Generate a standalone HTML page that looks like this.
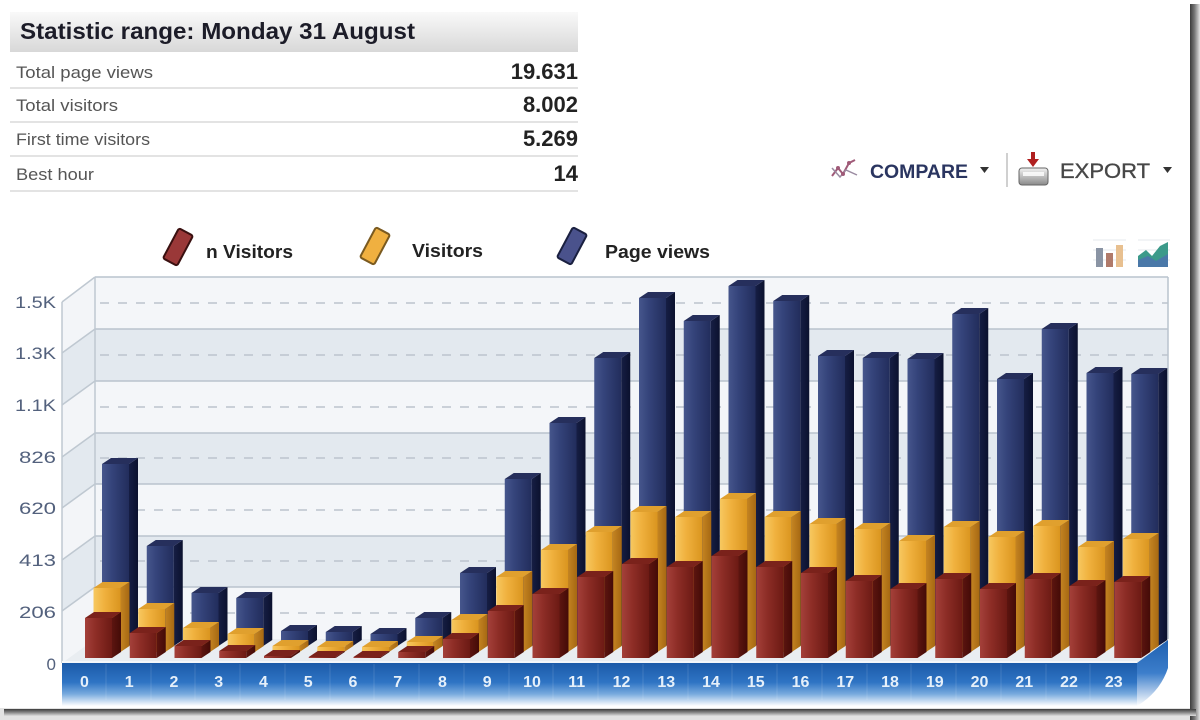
<!DOCTYPE html>
<html><head><meta charset="utf-8">
<style>
html,body{margin:0;padding:0;background:#fff;}
svg{display:block;font-family:"Liberation Sans",Arial,sans-serif;}
.B rect{fill:url(#bf)} .B .s{fill:url(#bs)} .B .t{fill:#262f5c}
.Y rect{fill:url(#yf)} .Y .s{fill:url(#ys)} .Y .t{fill:#e0a02e}
.R rect{fill:url(#rf)} .R .s{fill:url(#rs)} .R .t{fill:#7a221b}
.yl{font-size:17px;fill:#53617d;text-anchor:end}
.xl{font-size:16px;font-weight:bold;fill:#e6f0fa;text-anchor:middle}
</style></head>
<body>
<svg width="1200" height="720" viewBox="0 0 1200 720" xmlns="http://www.w3.org/2000/svg">
<defs>
<linearGradient id="hdr" x1="0" y1="0" x2="0" y2="1"><stop offset="0" stop-color="#f9f9f9"/><stop offset="1" stop-color="#d8d8d8"/></linearGradient>
<linearGradient id="bf" x1="0" x2="1"><stop offset="0" stop-color="#46568c"/><stop offset=".35" stop-color="#35447b"/><stop offset="1" stop-color="#222d5c"/></linearGradient>
<linearGradient id="bs" x1="0" x2="1"><stop offset="0" stop-color="#161e44"/><stop offset="1" stop-color="#0b112e"/></linearGradient>
<linearGradient id="yf" x1="0" x2="1"><stop offset="0" stop-color="#f7c860"/><stop offset=".4" stop-color="#f0b13e"/><stop offset="1" stop-color="#da951f"/></linearGradient>
<linearGradient id="ys" x1="0" x2="1"><stop offset="0" stop-color="#c48422"/><stop offset="1" stop-color="#a66812"/></linearGradient>
<linearGradient id="rf" x1="0" x2="1"><stop offset="0" stop-color="#a4403a"/><stop offset=".4" stop-color="#8d2d26"/><stop offset="1" stop-color="#6c1a14"/></linearGradient>
<linearGradient id="rs" x1="0" x2="1"><stop offset="0" stop-color="#5c1510"/><stop offset="1" stop-color="#440b07"/></linearGradient>
<linearGradient id="band" x1="0" y1="0" x2="0" y2="1"><stop offset="0" stop-color="#1b5aa8"/><stop offset=".45" stop-color="#2f74c4"/><stop offset=".72" stop-color="#78aade"/><stop offset="1" stop-color="#ffffff"/></linearGradient>
<linearGradient id="bandR" x1="0" y1="0" x2="0" y2="1"><stop offset="0" stop-color="#1f60b0"/><stop offset=".5" stop-color="#3c7ecb"/><stop offset="1" stop-color="#ffffff"/></linearGradient>
<linearGradient id="shR" x1="0" x2="1"><stop offset="0" stop-color="#3c3c3c"/><stop offset=".45" stop-color="#777"/><stop offset="1" stop-color="#e4e4e4"/></linearGradient>
<linearGradient id="shB" x1="0" y1="0" x2="0" y2="1"><stop offset="0" stop-color="#3c3c3c"/><stop offset=".5" stop-color="#888"/><stop offset="1" stop-color="#dedede"/></linearGradient>
<linearGradient id="dev" x1="0" y1="0" x2="0" y2="1"><stop offset="0" stop-color="#f2f2f2"/><stop offset="1" stop-color="#8a8a8a"/></linearGradient>
</defs>

<!-- frame shadow -->
<rect x="0" y="708" width="1200" height="12" fill="#e2e2e2"/>
<rect x="1190" y="4" width="10" height="716" fill="url(#shR)"/>
<rect x="4" y="709" width="1192" height="7" fill="url(#shB)"/>

<!-- header table -->
<rect x="10" y="12" width="568" height="40" fill="url(#hdr)"/>
<text x="20" y="39" font-size="23" font-weight="bold" fill="#1c1c28" textLength="395" lengthAdjust="spacingAndGlyphs">Statistic range: Monday 31 August</text>
<g font-size="17" fill="#555">
<text x="16" y="78" textLength="137" lengthAdjust="spacingAndGlyphs">Total page views</text>
<text x="16" y="111" textLength="102" lengthAdjust="spacingAndGlyphs">Total visitors</text>
<text x="16" y="145" textLength="134" lengthAdjust="spacingAndGlyphs">First time visitors</text>
<text x="16" y="180" textLength="78" lengthAdjust="spacingAndGlyphs">Best hour</text>
</g>
<g font-size="22" font-weight="bold" fill="#222" text-anchor="end">
<text x="578" y="79">19.631</text>
<text x="578" y="112">8.002</text>
<text x="578" y="146">5.269</text>
<text x="578" y="181">14</text>
</g>
<g stroke="#e3e3e3" stroke-width="2">
<line x1="10" y1="88" x2="578" y2="88"/>
<line x1="10" y1="122" x2="578" y2="122"/>
<line x1="10" y1="156" x2="578" y2="156"/>
<line x1="10" y1="191" x2="578" y2="191"/>
</g>

<!-- compare / export -->
<g>
<polyline points="832,176 838,168 843,174 849,163 855,160" fill="none" stroke="#a05a78" stroke-width="2"/>
<polyline points="832,168 840,177 846,170 857,175" fill="none" stroke="#9a8aa0" stroke-width="1.5"/>
<circle cx="838" cy="168" r="2" fill="#a05a78"/><circle cx="849" cy="163" r="2" fill="#a05a78"/><circle cx="843" cy="174" r="2" fill="#a05a78"/>
<text x="870" y="178" font-size="19.5" font-weight="bold" fill="#2a3560" textLength="98" lengthAdjust="spacingAndGlyphs">COMPARE</text>
<polygon points="980,167 989,167 984.5,173" fill="#333"/>
<line x1="1007" y1="153" x2="1007" y2="187" stroke="#d0d0d0" stroke-width="2"/>
<rect x="1031" y="152" width="4" height="8" fill="#b02020"/>
<polygon points="1027,159 1039,159 1033,167" fill="#b02020"/>
<rect x="1019" y="168" width="29" height="17" rx="3" fill="url(#dev)" stroke="#666" stroke-width="1"/>
<rect x="1023" y="172" width="21" height="4" fill="#fff" opacity=".8"/>
<text x="1060" y="178" font-size="21" fill="#474747" stroke="#474747" stroke-width=".35" textLength="90" lengthAdjust="spacingAndGlyphs">EXPORT</text>
<polygon points="1163,167 1172,167 1167.5,173" fill="#333"/>
</g>

<!-- legend -->
<g>
<rect x="-8" y="-17" width="16" height="34" rx="2" transform="translate(178,247) rotate(28)" fill="#9a3838" stroke="#3a1010" stroke-width="2"/>
<text x="206" y="258" font-size="18" font-weight="bold" fill="#222" textLength="87" lengthAdjust="spacingAndGlyphs">n Visitors</text>
<rect x="-8" y="-17" width="16" height="34" rx="2" transform="translate(375,246) rotate(28)" fill="#f0b040" stroke="#7a5a20" stroke-width="2"/>
<text x="412" y="257" font-size="18" font-weight="bold" fill="#222" textLength="71" lengthAdjust="spacingAndGlyphs">Visitors</text>
<rect x="-8" y="-17" width="16" height="34" rx="2" transform="translate(572,246) rotate(28)" fill="#4a528c" stroke="#1a2040" stroke-width="2"/>
<text x="605" y="258" font-size="18" font-weight="bold" fill="#222" textLength="105" lengthAdjust="spacingAndGlyphs">Page views</text>
</g>

<!-- chart type icons -->
<g>
<g stroke="#e4e8ec" stroke-width="1"><line x1="1093" y1="240" x2="1126" y2="240"/><line x1="1093" y1="250" x2="1126" y2="250"/><line x1="1093" y1="260" x2="1126" y2="260"/></g>
<rect x="1096" y="248" width="7" height="19" fill="#8a94a4"/>
<rect x="1106" y="253" width="7" height="14" fill="#b07a6a"/>
<rect x="1116" y="245" width="7" height="22" fill="#e8c090"/>
<g stroke="#e4e8ec" stroke-width="1"><line x1="1138" y1="240" x2="1170" y2="240"/><line x1="1138" y1="250" x2="1170" y2="250"/><line x1="1138" y1="260" x2="1170" y2="260"/></g>
<polygon points="1138,267 1138,256 1146,250 1152,256 1160,246 1168,242 1168,267" fill="#3c9a8a"/>
<polygon points="1138,267 1138,260 1148,256 1156,261 1168,254 1168,267" fill="#4a78a8"/>
</g>

<!-- back wall -->
<rect x="95" y="277" width="1073" height="362" fill="#f4f6f9"/>
<g fill="#e3e9ef">
<rect x="95" y="329" width="1073" height="52"/>
<rect x="95" y="433" width="1073" height="51"/>
<rect x="95" y="536" width="1073" height="51"/>
</g>
<g stroke="#b9c3cd" stroke-width="1.5">
<line x1="95" y1="277" x2="1168" y2="277"/>
<line x1="95" y1="329" x2="1168" y2="329"/>
<line x1="95" y1="381" x2="1168" y2="381"/>
<line x1="95" y1="433" x2="1168" y2="433"/>
<line x1="95" y1="484" x2="1168" y2="484"/>
<line x1="95" y1="536" x2="1168" y2="536"/>
<line x1="95" y1="587" x2="1168" y2="587"/>
<line x1="1168" y1="277" x2="1168" y2="639"/>
</g>
<g stroke="#bcc4cd" stroke-width="1.5" stroke-dasharray="9 9">
<line x1="100" y1="303" x2="1168" y2="303"/>
<line x1="100" y1="355" x2="1168" y2="355"/>
<line x1="100" y1="407" x2="1168" y2="407"/>
<line x1="100" y1="458" x2="1168" y2="458"/>
<line x1="100" y1="510" x2="1168" y2="510"/>
<line x1="100" y1="561" x2="1168" y2="561"/>
<line x1="100" y1="613" x2="1168" y2="613"/>
</g>

<!-- left wall -->
<polygon points="62,302 95,277 95,639 62,663" fill="#f3f5f8"/>
<g fill="#e3e9ef">
<polygon points="62,353 95,329 95,381 62,405"/>
<polygon points="62,457 95,433 95,484 62,508"/>
<polygon points="62,560 95,536 95,587 62,611"/>
</g>
<g stroke="#bfc8d1" stroke-width="1.5">
<line x1="62" y1="302" x2="95" y2="277"/>
<line x1="62" y1="353" x2="95" y2="329"/>
<line x1="62" y1="405" x2="95" y2="381"/>
<line x1="62" y1="457" x2="95" y2="433"/>
<line x1="62" y1="508" x2="95" y2="484"/>
<line x1="62" y1="560" x2="95" y2="536"/>
<line x1="62" y1="611" x2="95" y2="587"/>
<line x1="62" y1="302" x2="62" y2="663"/>
<line x1="95" y1="277" x2="95" y2="639"/>
</g>

<!-- floor -->
<polygon points="62,663 95,639 1168,639 1137,663" fill="#e9edf1"/>

<!-- y labels -->
<text class="yl" x="56" y="308" textLength="41" lengthAdjust="spacingAndGlyphs">1.5K</text>
<text class="yl" x="56" y="359" textLength="41" lengthAdjust="spacingAndGlyphs">1.3K</text>
<text class="yl" x="56" y="411" textLength="41" lengthAdjust="spacingAndGlyphs">1.1K</text>
<text class="yl" x="56" y="463" textLength="37" lengthAdjust="spacingAndGlyphs">826</text>
<text class="yl" x="56" y="514" textLength="37" lengthAdjust="spacingAndGlyphs">620</text>
<text class="yl" x="56" y="566" textLength="37" lengthAdjust="spacingAndGlyphs">413</text>
<text class="yl" x="56" y="618" textLength="37" lengthAdjust="spacingAndGlyphs">206</text>
<text class="yl" x="56" y="670">0</text>

<!-- blue bars (page views) -->
<g class="B">
<g transform="translate(102,0)"><rect y="464" width="27" height="182"/><path class="s" d="M27 464L36 458V640L27 646Z"/><path class="t" d="M0 464L9 458H36L27 464Z"/></g>
<g transform="translate(146.75,0)"><rect y="546" width="27" height="100"/><path class="s" d="M27 546L36 540V640L27 646Z"/><path class="t" d="M0 546L9 540H36L27 546Z"/></g>
<g transform="translate(191.5,0)"><rect y="593" width="27" height="53"/><path class="s" d="M27 593L36 587V640L27 646Z"/><path class="t" d="M0 593L9 587H36L27 593Z"/></g>
<g transform="translate(236.25,0)"><rect y="598" width="27" height="48"/><path class="s" d="M27 598L36 592V640L27 646Z"/><path class="t" d="M0 598L9 592H36L27 598Z"/></g>
<g transform="translate(281,0)"><rect y="631" width="27" height="15"/><path class="s" d="M27 631L36 625V640L27 646Z"/><path class="t" d="M0 631L9 625H36L27 631Z"/></g>
<g transform="translate(325.75,0)"><rect y="632" width="27" height="14"/><path class="s" d="M27 632L36 626V640L27 646Z"/><path class="t" d="M0 632L9 626H36L27 632Z"/></g>
<g transform="translate(370.5,0)"><rect y="634" width="27" height="12"/><path class="s" d="M27 634L36 628V640L27 646Z"/><path class="t" d="M0 634L9 628H36L27 634Z"/></g>
<g transform="translate(415.25,0)"><rect y="618" width="27" height="28"/><path class="s" d="M27 618L36 612V640L27 646Z"/><path class="t" d="M0 618L9 612H36L27 618Z"/></g>
<g transform="translate(460,0)"><rect y="573" width="27" height="73"/><path class="s" d="M27 573L36 567V640L27 646Z"/><path class="t" d="M0 573L9 567H36L27 573Z"/></g>
<g transform="translate(504.75,0)"><rect y="479" width="27" height="167"/><path class="s" d="M27 479L36 473V640L27 646Z"/><path class="t" d="M0 479L9 473H36L27 479Z"/></g>
<g transform="translate(549.5,0)"><rect y="423" width="27" height="223"/><path class="s" d="M27 423L36 417V640L27 646Z"/><path class="t" d="M0 423L9 417H36L27 423Z"/></g>
<g transform="translate(594.25,0)"><rect y="358" width="27" height="288"/><path class="s" d="M27 358L36 352V640L27 646Z"/><path class="t" d="M0 358L9 352H36L27 358Z"/></g>
<g transform="translate(639,0)"><rect y="298" width="27" height="348"/><path class="s" d="M27 298L36 292V640L27 646Z"/><path class="t" d="M0 298L9 292H36L27 298Z"/></g>
<g transform="translate(683.75,0)"><rect y="321" width="27" height="325"/><path class="s" d="M27 321L36 315V640L27 646Z"/><path class="t" d="M0 321L9 315H36L27 321Z"/></g>
<g transform="translate(728.5,0)"><rect y="286" width="27" height="360"/><path class="s" d="M27 286L36 280V640L27 646Z"/><path class="t" d="M0 286L9 280H36L27 286Z"/></g>
<g transform="translate(773.25,0)"><rect y="301" width="27" height="345"/><path class="s" d="M27 301L36 295V640L27 646Z"/><path class="t" d="M0 301L9 295H36L27 301Z"/></g>
<g transform="translate(818,0)"><rect y="356" width="27" height="290"/><path class="s" d="M27 356L36 350V640L27 646Z"/><path class="t" d="M0 356L9 350H36L27 356Z"/></g>
<g transform="translate(862.75,0)"><rect y="358" width="27" height="288"/><path class="s" d="M27 358L36 352V640L27 646Z"/><path class="t" d="M0 358L9 352H36L27 358Z"/></g>
<g transform="translate(907.5,0)"><rect y="359" width="27" height="287"/><path class="s" d="M27 359L36 353V640L27 646Z"/><path class="t" d="M0 359L9 353H36L27 359Z"/></g>
<g transform="translate(952.25,0)"><rect y="314" width="27" height="332"/><path class="s" d="M27 314L36 308V640L27 646Z"/><path class="t" d="M0 314L9 308H36L27 314Z"/></g>
<g transform="translate(997,0)"><rect y="379" width="27" height="267"/><path class="s" d="M27 379L36 373V640L27 646Z"/><path class="t" d="M0 379L9 373H36L27 379Z"/></g>
<g transform="translate(1041.75,0)"><rect y="329" width="27" height="317"/><path class="s" d="M27 329L36 323V640L27 646Z"/><path class="t" d="M0 329L9 323H36L27 329Z"/></g>
<g transform="translate(1086.5,0)"><rect y="373" width="27" height="273"/><path class="s" d="M27 373L36 367V640L27 646Z"/><path class="t" d="M0 373L9 367H36L27 373Z"/></g>
<g transform="translate(1131.25,0)"><rect y="374" width="27" height="272"/><path class="s" d="M27 374L36 368V640L27 646Z"/><path class="t" d="M0 374L9 368H36L27 374Z"/></g>
</g>

<!-- yellow bars (visitors) -->
<g class="Y">
<g transform="translate(93.5,0)"><rect y="588" width="27" height="64"/><path class="s" d="M27 588L36 582V646L27 652Z"/><path class="t" d="M0 588L9 582H36L27 588Z"/></g>
<g transform="translate(138.25,0)"><rect y="609" width="27" height="43"/><path class="s" d="M27 609L36 603V646L27 652Z"/><path class="t" d="M0 609L9 603H36L27 609Z"/></g>
<g transform="translate(183,0)"><rect y="628" width="27" height="24"/><path class="s" d="M27 628L36 622V646L27 652Z"/><path class="t" d="M0 628L9 622H36L27 628Z"/></g>
<g transform="translate(227.75,0)"><rect y="634" width="27" height="18"/><path class="s" d="M27 634L36 628V646L27 652Z"/><path class="t" d="M0 634L9 628H36L27 634Z"/></g>
<g transform="translate(272.5,0)"><rect y="646" width="27" height="6"/><path class="s" d="M27 646L36 640V646L27 652Z"/><path class="t" d="M0 646L9 640H36L27 646Z"/></g>
<g transform="translate(317.25,0)"><rect y="647" width="27" height="5"/><path class="s" d="M27 647L36 641V646L27 652Z"/><path class="t" d="M0 647L9 641H36L27 647Z"/></g>
<g transform="translate(362,0)"><rect y="647" width="27" height="5"/><path class="s" d="M27 647L36 641V646L27 652Z"/><path class="t" d="M0 647L9 641H36L27 647Z"/></g>
<g transform="translate(406.75,0)"><rect y="642" width="27" height="10"/><path class="s" d="M27 642L36 636V646L27 652Z"/><path class="t" d="M0 642L9 636H36L27 642Z"/></g>
<g transform="translate(451.5,0)"><rect y="620" width="27" height="32"/><path class="s" d="M27 620L36 614V646L27 652Z"/><path class="t" d="M0 620L9 614H36L27 620Z"/></g>
<g transform="translate(496.25,0)"><rect y="577" width="27" height="75"/><path class="s" d="M27 577L36 571V646L27 652Z"/><path class="t" d="M0 577L9 571H36L27 577Z"/></g>
<g transform="translate(541,0)"><rect y="550" width="27" height="102"/><path class="s" d="M27 550L36 544V646L27 652Z"/><path class="t" d="M0 550L9 544H36L27 550Z"/></g>
<g transform="translate(585.75,0)"><rect y="532" width="27" height="120"/><path class="s" d="M27 532L36 526V646L27 652Z"/><path class="t" d="M0 532L9 526H36L27 532Z"/></g>
<g transform="translate(630.5,0)"><rect y="512" width="27" height="140"/><path class="s" d="M27 512L36 506V646L27 652Z"/><path class="t" d="M0 512L9 506H36L27 512Z"/></g>
<g transform="translate(675.25,0)"><rect y="517" width="27" height="135"/><path class="s" d="M27 517L36 511V646L27 652Z"/><path class="t" d="M0 517L9 511H36L27 517Z"/></g>
<g transform="translate(720,0)"><rect y="499" width="27" height="153"/><path class="s" d="M27 499L36 493V646L27 652Z"/><path class="t" d="M0 499L9 493H36L27 499Z"/></g>
<g transform="translate(764.75,0)"><rect y="517" width="27" height="135"/><path class="s" d="M27 517L36 511V646L27 652Z"/><path class="t" d="M0 517L9 511H36L27 517Z"/></g>
<g transform="translate(809.5,0)"><rect y="524" width="27" height="128"/><path class="s" d="M27 524L36 518V646L27 652Z"/><path class="t" d="M0 524L9 518H36L27 524Z"/></g>
<g transform="translate(854.25,0)"><rect y="529" width="27" height="123"/><path class="s" d="M27 529L36 523V646L27 652Z"/><path class="t" d="M0 529L9 523H36L27 529Z"/></g>
<g transform="translate(899,0)"><rect y="541" width="27" height="111"/><path class="s" d="M27 541L36 535V646L27 652Z"/><path class="t" d="M0 541L9 535H36L27 541Z"/></g>
<g transform="translate(943.75,0)"><rect y="527" width="27" height="125"/><path class="s" d="M27 527L36 521V646L27 652Z"/><path class="t" d="M0 527L9 521H36L27 527Z"/></g>
<g transform="translate(988.5,0)"><rect y="537" width="27" height="115"/><path class="s" d="M27 537L36 531V646L27 652Z"/><path class="t" d="M0 537L9 531H36L27 537Z"/></g>
<g transform="translate(1033.25,0)"><rect y="526" width="27" height="126"/><path class="s" d="M27 526L36 520V646L27 652Z"/><path class="t" d="M0 526L9 520H36L27 526Z"/></g>
<g transform="translate(1078,0)"><rect y="547" width="27" height="105"/><path class="s" d="M27 547L36 541V646L27 652Z"/><path class="t" d="M0 547L9 541H36L27 547Z"/></g>
<g transform="translate(1122.75,0)"><rect y="539" width="27" height="113"/><path class="s" d="M27 539L36 533V646L27 652Z"/><path class="t" d="M0 539L9 533H36L27 539Z"/></g>
</g>

<!-- red bars (n visitors) -->
<g class="R">
<g transform="translate(85,0)"><rect y="618" width="27" height="40"/><path class="s" d="M27 618L36 612V652L27 658Z"/><path class="t" d="M0 618L9 612H36L27 618Z"/></g>
<g transform="translate(129.75,0)"><rect y="633" width="27" height="25"/><path class="s" d="M27 633L36 627V652L27 658Z"/><path class="t" d="M0 633L9 627H36L27 633Z"/></g>
<g transform="translate(174.5,0)"><rect y="646" width="27" height="12"/><path class="s" d="M27 646L36 640V652L27 658Z"/><path class="t" d="M0 646L9 640H36L27 646Z"/></g>
<g transform="translate(219.25,0)"><rect y="651" width="27" height="7"/><path class="s" d="M27 651L36 645V652L27 658Z"/><path class="t" d="M0 651L9 645H36L27 651Z"/></g>
<g transform="translate(264,0)"><rect y="656" width="27" height="2"/><path class="s" d="M27 656L36 650V652L27 658Z"/><path class="t" d="M0 656L9 650H36L27 656Z"/></g>
<g transform="translate(308.75,0)"><rect y="657" width="27" height="1"/><path class="s" d="M27 657L36 651V652L27 658Z"/><path class="t" d="M0 657L9 651H36L27 657Z"/></g>
<g transform="translate(353.5,0)"><rect y="657" width="27" height="1"/><path class="s" d="M27 657L36 651V652L27 658Z"/><path class="t" d="M0 657L9 651H36L27 657Z"/></g>
<g transform="translate(398.25,0)"><rect y="652" width="27" height="6"/><path class="s" d="M27 652L36 646V652L27 658Z"/><path class="t" d="M0 652L9 646H36L27 652Z"/></g>
<g transform="translate(443,0)"><rect y="639" width="27" height="19"/><path class="s" d="M27 639L36 633V652L27 658Z"/><path class="t" d="M0 639L9 633H36L27 639Z"/></g>
<g transform="translate(487.75,0)"><rect y="611" width="27" height="47"/><path class="s" d="M27 611L36 605V652L27 658Z"/><path class="t" d="M0 611L9 605H36L27 611Z"/></g>
<g transform="translate(532.5,0)"><rect y="594" width="27" height="64"/><path class="s" d="M27 594L36 588V652L27 658Z"/><path class="t" d="M0 594L9 588H36L27 594Z"/></g>
<g transform="translate(577.25,0)"><rect y="577" width="27" height="81"/><path class="s" d="M27 577L36 571V652L27 658Z"/><path class="t" d="M0 577L9 571H36L27 577Z"/></g>
<g transform="translate(622,0)"><rect y="564" width="27" height="94"/><path class="s" d="M27 564L36 558V652L27 658Z"/><path class="t" d="M0 564L9 558H36L27 564Z"/></g>
<g transform="translate(666.75,0)"><rect y="567" width="27" height="91"/><path class="s" d="M27 567L36 561V652L27 658Z"/><path class="t" d="M0 567L9 561H36L27 567Z"/></g>
<g transform="translate(711.5,0)"><rect y="556" width="27" height="102"/><path class="s" d="M27 556L36 550V652L27 658Z"/><path class="t" d="M0 556L9 550H36L27 556Z"/></g>
<g transform="translate(756.25,0)"><rect y="567" width="27" height="91"/><path class="s" d="M27 567L36 561V652L27 658Z"/><path class="t" d="M0 567L9 561H36L27 567Z"/></g>
<g transform="translate(801,0)"><rect y="573" width="27" height="85"/><path class="s" d="M27 573L36 567V652L27 658Z"/><path class="t" d="M0 573L9 567H36L27 573Z"/></g>
<g transform="translate(845.75,0)"><rect y="581" width="27" height="77"/><path class="s" d="M27 581L36 575V652L27 658Z"/><path class="t" d="M0 581L9 575H36L27 581Z"/></g>
<g transform="translate(890.5,0)"><rect y="589" width="27" height="69"/><path class="s" d="M27 589L36 583V652L27 658Z"/><path class="t" d="M0 589L9 583H36L27 589Z"/></g>
<g transform="translate(935.25,0)"><rect y="579" width="27" height="79"/><path class="s" d="M27 579L36 573V652L27 658Z"/><path class="t" d="M0 579L9 573H36L27 579Z"/></g>
<g transform="translate(980,0)"><rect y="589" width="27" height="69"/><path class="s" d="M27 589L36 583V652L27 658Z"/><path class="t" d="M0 589L9 583H36L27 589Z"/></g>
<g transform="translate(1024.75,0)"><rect y="579" width="27" height="79"/><path class="s" d="M27 579L36 573V652L27 658Z"/><path class="t" d="M0 579L9 573H36L27 579Z"/></g>
<g transform="translate(1069.5,0)"><rect y="586" width="27" height="72"/><path class="s" d="M27 586L36 580V652L27 658Z"/><path class="t" d="M0 586L9 580H36L27 586Z"/></g>
<g transform="translate(1114.25,0)"><rect y="582" width="27" height="76"/><path class="s" d="M27 582L36 576V652L27 658Z"/><path class="t" d="M0 582L9 576H36L27 582Z"/></g>
</g>

<!-- axis band -->
<path d="M1137 663 L1168 640 L1168 668 Q1160 692 1137 706 Z" fill="url(#bandR)"/>
<rect x="62" y="663" width="1075" height="43" fill="url(#band)"/>
<line x1="62" y1="662" x2="1137" y2="662" stroke="#f4f7fa" stroke-width="2"/>
<g stroke="#ffffff" stroke-opacity=".13" stroke-width="1">
<line x1="106" y1="664" x2="106" y2="700"/><line x1="151" y1="664" x2="151" y2="700"/><line x1="195" y1="664" x2="195" y2="700"/><line x1="240" y1="664" x2="240" y2="700"/><line x1="285" y1="664" x2="285" y2="700"/><line x1="330" y1="664" x2="330" y2="700"/><line x1="374" y1="664" x2="374" y2="700"/><line x1="419" y1="664" x2="419" y2="700"/><line x1="464" y1="664" x2="464" y2="700"/><line x1="509" y1="664" x2="509" y2="700"/><line x1="553" y1="664" x2="553" y2="700"/><line x1="598" y1="664" x2="598" y2="700"/><line x1="643" y1="664" x2="643" y2="700"/><line x1="688" y1="664" x2="688" y2="700"/><line x1="732" y1="664" x2="732" y2="700"/><line x1="777" y1="664" x2="777" y2="700"/><line x1="822" y1="664" x2="822" y2="700"/><line x1="867" y1="664" x2="867" y2="700"/><line x1="911" y1="664" x2="911" y2="700"/><line x1="956" y1="664" x2="956" y2="700"/><line x1="1001" y1="664" x2="1001" y2="700"/><line x1="1046" y1="664" x2="1046" y2="700"/><line x1="1090" y1="664" x2="1090" y2="700"/>
</g>
<g>
<text class="xl" x="84.5" y="687">0</text>
<text class="xl" x="129.25" y="687">1</text>
<text class="xl" x="174" y="687">2</text>
<text class="xl" x="218.75" y="687">3</text>
<text class="xl" x="263.5" y="687">4</text>
<text class="xl" x="308.25" y="687">5</text>
<text class="xl" x="353" y="687">6</text>
<text class="xl" x="397.75" y="687">7</text>
<text class="xl" x="442.5" y="687">8</text>
<text class="xl" x="487.25" y="687">9</text>
<text class="xl" x="532" y="687">10</text>
<text class="xl" x="576.75" y="687">11</text>
<text class="xl" x="621.5" y="687">12</text>
<text class="xl" x="666.25" y="687">13</text>
<text class="xl" x="711" y="687">14</text>
<text class="xl" x="755.75" y="687">15</text>
<text class="xl" x="800.5" y="687">16</text>
<text class="xl" x="845.25" y="687">17</text>
<text class="xl" x="890" y="687">18</text>
<text class="xl" x="934.75" y="687">19</text>
<text class="xl" x="979.5" y="687">20</text>
<text class="xl" x="1024.25" y="687">21</text>
<text class="xl" x="1069" y="687">22</text>
<text class="xl" x="1113.75" y="687">23</text>
</g>
</svg>
</body></html>
